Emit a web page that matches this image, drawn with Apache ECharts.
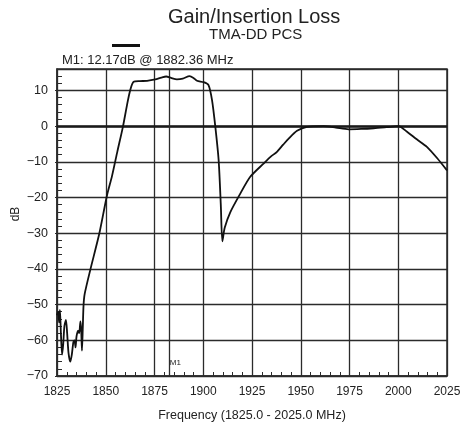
<!DOCTYPE html>
<html>
<head>
<meta charset="utf-8">
<script src="https://cdn.jsdelivr.net/npm/echarts@6/dist/echarts.min.js"></script>
<style>
  html, body { margin: 0; padding: 0; background: #fff; }
  #chart { width: 468px; height: 425px; }
</style>
</head>
<body>
<div id="chart"></div>
<script>
// Swept gain response of the TMA-DD PCS unit, 1825–2025 MHz
const freqMHz = [
  1825.0, 1825.6, 1826.1, 1826.5, 1827.0, 1827.6, 1828.2, 1828.8, 1829.6, 1830.2,
  1830.9, 1831.8, 1832.6, 1833.4, 1834.0, 1834.5, 1835.0, 1835.8, 1836.4, 1837.0,
  1837.4, 1837.8, 1838.2, 1838.6, 1839.2, 1842.1, 1846.7, 1850.6, 1853.2, 1856.0,
  1858.8, 1860.9, 1862.5, 1864.3, 1867.5, 1871.2, 1875.4, 1878.5, 1881.0, 1883.5,
  1886.5, 1889.5, 1893.0, 1895.0, 1896.8, 1900.2, 1902.7, 1904.5, 1906.2, 1907.9,
  1909.0, 1909.8, 1911.0, 1913.9, 1919.0, 1924.1, 1930.9, 1934.5, 1937.8, 1941.0,
  1943.8, 1948.1, 1953.2, 1961.7, 1968.0, 1974.5, 1981.0, 1987.4, 1994.0, 2000.2,
  2004.5, 2009.5, 2014.7, 2020.0, 2025.0
];
const gainDb = [
  -53.0, -52.0, -55.0, -51.5, -58.0, -64.0, -61.0, -56.0, -54.3, -58.0,
  -63.5, -66.0, -64.0, -60.5, -60.0, -62.0, -59.0, -57.3, -58.0, -54.7,
  -57.0, -62.9, -57.0, -50.3, -47.0, -40.2, -30.1, -19.5, -14.0, -7.0,
  -0.2, 5.9, 10.0, 12.4, 12.6, 12.7, 13.1, 13.6, 13.9, 13.5,
  13.1, 13.3, 14.0, 13.5, 12.7, 12.3, 11.5, 7.3, -0.2, -9.6,
  -22.0, -32.3, -28.5, -24.1, -18.9, -14.2, -10.5, -8.6, -7.2, -5.2,
  -3.5, -1.3, -0.2, 0.0, -0.4, -0.9, -0.8, -0.6, -0.3, 0.0,
  -1.6, -3.7, -5.8, -9.0, -12.4
];

// Marker readout
const markerName = 'M1';
const markerFreq = 1882.36;
const markerGain = 12.17;

// Axis ranges and tick spacing
const xRange = [1825, 2025];
const xStep = 25;
const yRange = [-70, 16];
const yStep = 10;
const yMinorStep = 2;

const FONT = 'Liberation Sans, Arial, Helvetica, sans-serif';
const INK = '#222';
const GRID = '#2b2b2b';

const chart = echarts.init(document.getElementById('chart'), null, { renderer: 'canvas' });

chart.setOption({
  animation: false,
  backgroundColor: '#fff',
  textStyle: { fontFamily: FONT, color: INK },
  title: [
    { text: 'Gain/Insertion Loss', left: 163, top: 2,
      textStyle: { fontFamily: FONT, fontSize: 20, fontWeight: 'normal', color: INK } },
    { text: 'TMA-DD PCS', left: 204, top: 22,
      textStyle: { fontFamily: FONT, fontSize: 15, fontWeight: 'normal', color: INK } },
    { text: markerName + ': ' + markerGain.toFixed(2) + 'dB @ ' + markerFreq.toFixed(2) + ' MHz',
      left: 57, top: 49,
      textStyle: { fontFamily: FONT, fontSize: 13, fontWeight: 'normal', color: INK } }
  ],
  // Vertical axis title
  graphic: [
    {
      type: 'text', x: 16, y: 214, rotation: Math.PI / 2, silent: true,
      style: { text: 'dB', fontFamily: FONT, fontSize: 12, fill: INK,
               align: 'center', verticalAlign: 'middle' }
    }
  ],
  legend: {
    left: 112, top: 44, padding: 0,
    icon: 'rect', itemWidth: 28, itemHeight: 3, itemGap: 0,
    formatter: () => '',
    data: ['Gain']
  },
  grid: {
    left: 57, right: 21, top: 69, bottom: 49,
    outerBoundsMode: 'none', containLabel: false,
    show: true, borderColor: GRID, borderWidth: 1.5, backgroundColor: 'transparent'
  },
  xAxis: [
    {
      type: 'value', min: xRange[0], max: xRange[1], interval: xStep,
      name: 'Frequency (' + xRange[0].toFixed(1) + ' - ' + xRange[1].toFixed(1) + ' MHz)',
      nameLocation: 'middle', nameGap: 33,
      nameTextStyle: { fontFamily: FONT, fontSize: 12.5, color: INK },
      axisLine: { show: true, onZero: false, lineStyle: { color: GRID, width: 1.5 } },
      axisTick: { show: false },
      minorTick: { show: true, splitNumber: 5, length: -4, lineStyle: { color: GRID, width: 1 } },
      axisLabel: { fontFamily: FONT, fontSize: 12, color: INK, margin: 10, formatter: v => String(v) },
      splitLine: { show: true, lineStyle: { color: GRID, width: 1.3 } }
    }
  ],
  yAxis: [
    {
      type: 'value', min: yRange[0], max: yRange[1], interval: yStep,
      axisLine: { show: true, onZero: false, lineStyle: { color: GRID, width: 1.5 } },
      axisTick: { show: true, length: 2, lineStyle: { color: GRID } },
      axisLabel: {
        fontFamily: FONT, fontSize: 12.5, color: INK, margin: 9,
        showMaxLabel: false,
        formatter: v => (v > 10 ? '' : (v < 0 ? '\u2212' + Math.abs(v) : String(v)))
      },
      splitLine: { show: true, lineStyle: { color: GRID, width: 1.3 } }
    },
    {
      // 2 dB minor ticks along the left edge
      type: 'value', min: yRange[0], max: yRange[1], interval: yMinorStep,
      position: 'left',
      axisLine: { show: false, onZero: false },
      axisTick: { show: true, inside: true, length: 5, lineStyle: { color: GRID, width: 1 } },
      axisLabel: { show: false },
      splitLine: { show: false }
    }
  ],
  series: [
    {
      name: 'Gain',
      type: 'line',
      xAxisIndex: 0, yAxisIndex: 0,
      data: freqMHz.map((f, i) => [f, gainDb[i]]),
      showSymbol: false,
      smooth: 0.25,
      color: '#111',
      lineStyle: { color: '#111', width: 1.8 },
      z: 5,
      markLine: {
        silent: true, symbol: 'none', animation: false,
        label: { show: false },
        data: [
          { yAxis: 0, lineStyle: { color: '#1a1a1a', width: 2.6, type: 'solid' } },
          { xAxis: markerFreq, lineStyle: { color: GRID, width: 1.3, type: 'solid' } }
        ]
      },
      markPoint: {
        silent: true, symbol: 'circle', symbolSize: 0,
        data: [{ coord: [markerFreq, yRange[0]], value: markerName }],
        label: {
          show: true, formatter: markerName, position: 'top',
          align: 'left', offset: [1, -4],
          fontFamily: FONT, fontSize: 8, color: INK
        }
      }
    }
  ]
});
</script>
</body>
</html>
